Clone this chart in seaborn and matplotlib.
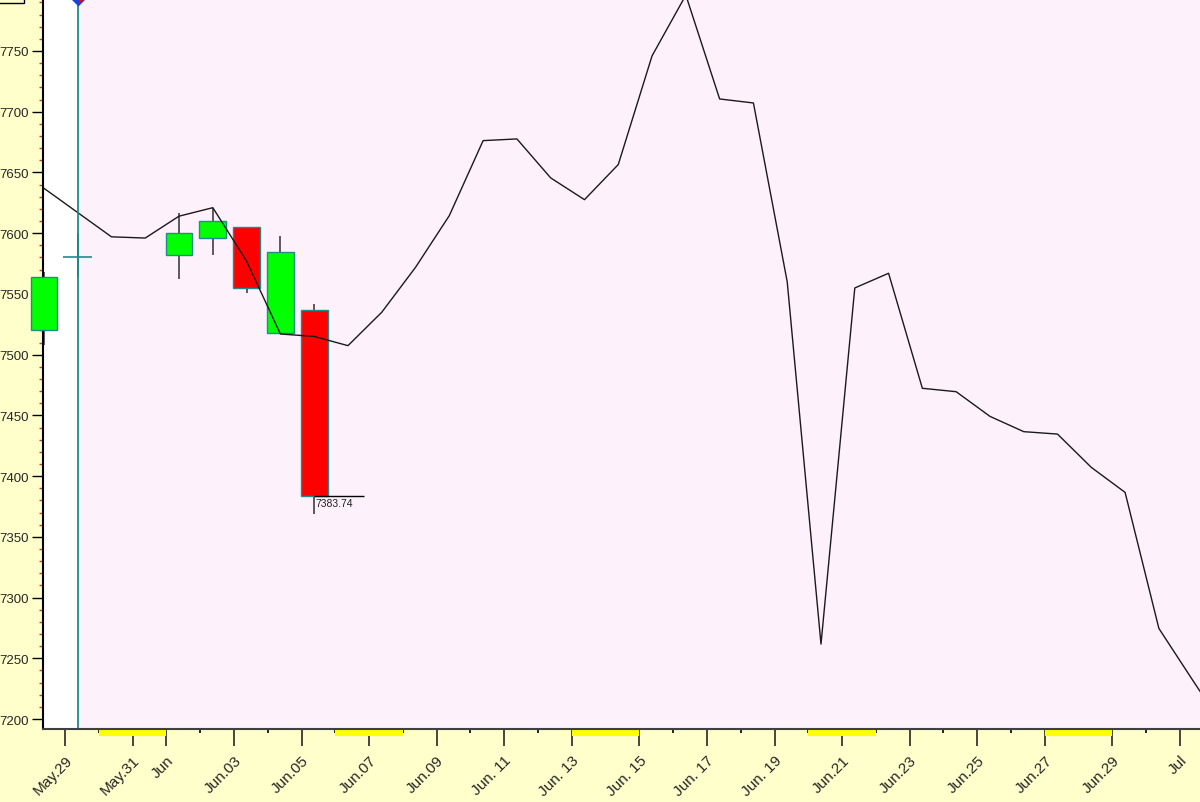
"""
Candlestick chart with projected line - recreation
"""

import pandas as pd
import seaborn as sns
import matplotlib.pyplot as plt
import matplotlib.dates as mdates
import matplotlib.transforms as mtransforms
from matplotlib.patches import Rectangle
from matplotlib.ticker import FixedLocator

sns.set_style('white')
plt.rcParams['font.family'] = ['Liberation Sans', 'DejaVu Sans']

# Candles (daily, plotted at 09:00)

CandleDays = ['2015-05-28', '2015-05-29', '2015-06-01', '2015-06-02',
              '2015-06-03', '2015-06-04', '2015-06-05']
Opens = [7520.5, 7580.0, 7582.3, 7596.0, 7605.0, 7517.6, 7537.0]
Highs = [7568.0, 7599.0, 7616.6, 7621.0, 7605.0, 7597.7, 7541.7]
Lows = [7508.0, 7564.0, 7562.3, 7582.0, 7551.0, 7517.6, 7368.8]
Closes = [7563.7, 7580.0, 7600.0, 7610.0, 7554.6, 7584.3, 7383.74]

# Projection line (one point per calendar day from May 28)

LineStart = '2015-05-28'
LineValues = [7637, 7617, 7597, 7596, 7614, 7621, 7577, 7517, 7515,
              7507.4, 7534.9, 7571.9, 7614.5, 7676.2, 7677.6, 7645.5,
              7627.6, 7656.5, 7746, 7796, 7710.5, 7707.2, 7560, 7261.7,
              7554.9, 7567, 7472.3, 7469.5, 7449.2, 7436.6, 7434.6,
              7407.2, 7386.6, 7274.6, 7232, 7190]

# Axis labels

LabelDays = ['2015-05-29', '2015-05-31', '2015-06-01', '2015-06-03', '2015-06-05',
             '2015-06-07', '2015-06-09', '2015-06-11', '2015-06-13', '2015-06-15',
             '2015-06-17', '2015-06-19', '2015-06-21', '2015-06-23', '2015-06-25',
             '2015-06-27', '2015-06-29', '2015-07-01']
LabelText = ['May.29', 'May.31', 'Jun', 'Jun.03', 'Jun.05', 'Jun.07', 'Jun.09',
             'Jun. 11', 'Jun. 13', 'Jun. 15', 'Jun. 17', 'Jun. 19', 'Jun.21',
             'Jun.23', 'Jun.25', 'Jun.27', 'Jun.29', 'Jul']
LabelColors = ['#E08848', 'red', 'red', '#E08848', 'red', 'red', 'red', 'red', 'red',
               'red', '#E08848', 'red', 'red', 'red', 'red', 'red', 'red', '#E08848']
Weekends = ['2015-05-30', '2015-06-06', '2015-06-13', '2015-06-20', '2015-06-27']
YTicks = [7200, 7250, 7300, 7350, 7400, 7450, 7500, 7550, 7600, 7650, 7700, 7750]

# Positions

base = mdates.date2num(pd.Timestamp(LineStart))
offset = 0.375
cx = [mdates.date2num(pd.Timestamp(d)) + offset for d in CandleDays]
lx = [base + offset + i for i in range(len(LineValues))]
cursor = cx[1] + 0.01

fig = plt.figure(figsize=(12, 8.03), dpi=100, facecolor='#FFFFCC')
ax = fig.add_axes([43 / 1200, 73 / 803, 1157 / 1200, 730 / 803])
ax.set_facecolor('white')
ax.set_xlim(base + 0.349, base + 34.592)
ax.set_ylim(7191.8, 7792.8)
ax.axvspan(cursor, base + 40, color='#FDF1FB', lw=0, zorder=0)

# Candles

for x, o, h, l, c in zip(cx, Opens, Highs, Lows, Closes):
    ax.vlines(x, l, h, color='#303030', lw=1.1, zorder=2, clip_on=False)
    if o == c:
        ax.hlines(c, x - 0.42, x + 0.42, color='#1E8C8C', lw=1.2, zorder=3)
        continue
    ax.bar(x, abs(c - o), bottom=min(o, c), width=0.79,
           color='#00FF00' if c > o else '#FF0000',
           edgecolor='#1E8C8C', lw=1.0, zorder=3, clip_on=False)

# Projection line

sns.lineplot(x=lx, y=LineValues, ax=ax, color='#1a1a1a', lw=1.0, zorder=4)

# Cursor line + marker

ax.axvline(cursor, color='#1A8C8C', lw=1.3, zorder=5)
ax.plot(cursor, 7792.8, marker='D', ms=6, fillstyle='left',
        markerfacecolor='#2040D0', markerfacecoloralt='red',
        markeredgecolor='#2040D0', clip_on=False, zorder=6)

# Last close label

ax.hlines(Closes[-1], cx[-1], cx[-1] + 1.48, color='black', lw=1, zorder=5)
ax.text(cx[-1] + 0.05, Closes[-1] - 1.5, '{:.2f}'.format(Closes[-1]),
        fontsize=7.5, va='top', ha='left', color='#202020', zorder=5)

# Weekend bars under the axis

trans = mtransforms.blended_transform_factory(ax.transData, ax.transAxes)
for w in Weekends:
    wx = mdates.date2num(pd.Timestamp(w))
    ax.add_patch(Rectangle((wx, -0.0096), 2, 0.0096, transform=trans,
                           facecolor='#FFFF00', edgecolor='none', clip_on=False))

# Spines

sns.despine(ax=ax, top=True, right=True)
ax.spines['left'].set_color('black')
ax.spines['left'].set_linewidth(1.5)
ax.spines['bottom'].set_color('#404040')
ax.spines['bottom'].set_linewidth(1.5)
ax.spines['bottom'].set_zorder(7)

# Y ticks

ax.set_yticks(YTicks)
ax.set_yticklabels([str(t) for t in YTicks], fontsize=9.5)
ax.yaxis.set_minor_locator(FixedLocator([v for v in range(7200, 7800, 10) if v % 50]))
ax.tick_params(axis='y', which='major', direction='out', length=8, width=1,
               color='black', pad=2, left=True)
ax.tick_params(axis='y', which='minor', direction='out', length=3, width=1,
               color='#D83818', left=True)

# X ticks

label_x = [mdates.date2num(pd.Timestamp(d)) for d in LabelDays]
all_days = [base + 1 + i for i in range(34)]
ax.set_xticks(label_x)
ax.set_xticklabels(LabelText, rotation=45, ha='right', rotation_mode='anchor', fontsize=11)
ax.xaxis.set_minor_locator(FixedLocator([d for d in all_days if d not in label_x]))
ax.tick_params(axis='x', which='major', direction='out', length=12, width=1.2, pad=5,
               bottom=True)
ax.tick_params(axis='x', which='minor', direction='out', length=3, width=1.2,
               color='black', bottom=True)
for tick, col in zip(ax.xaxis.get_major_ticks(), LabelColors):
    tick.tick1line.set_color(col)

ax.grid(False)

# Cut-off box in the top-left corner

fig.text(-0.004, 1.006, 'Plan', fontsize=9, va='center', ha='left',
         bbox=dict(boxstyle='square,pad=0.25', fc='#FFFFCC', ec='black', lw=1))

plt.savefig('out.png', dpi=100, facecolor=fig.get_facecolor())
